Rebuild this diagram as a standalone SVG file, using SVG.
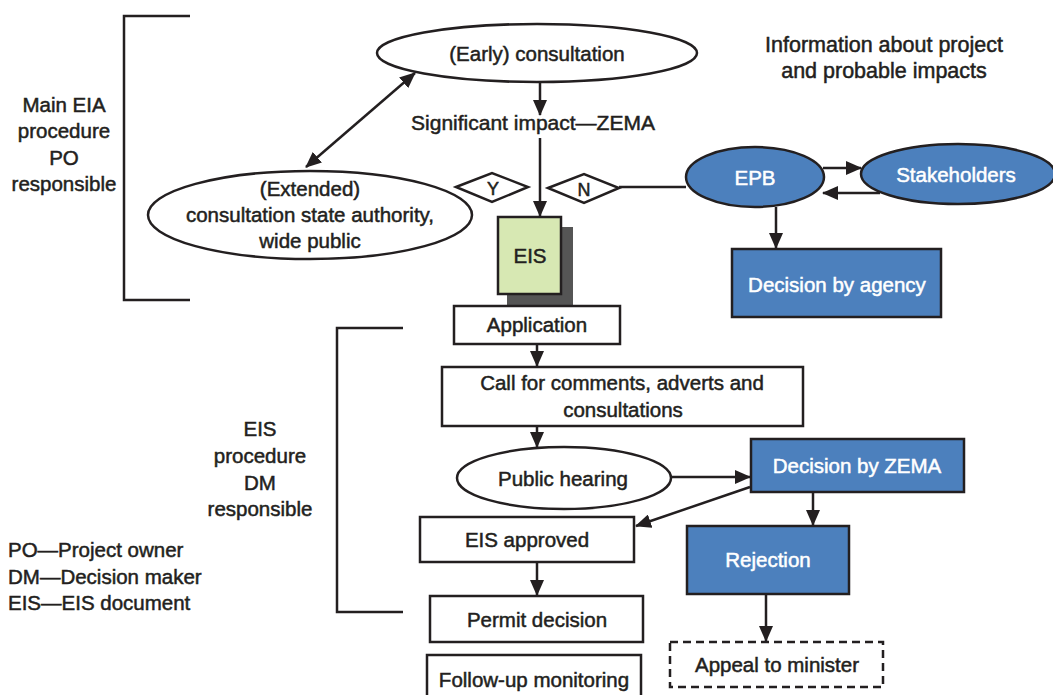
<svg xmlns="http://www.w3.org/2000/svg" width="1053" height="695" viewBox="0 0 1053 695">
<defs>
<marker id="ah" markerUnits="userSpaceOnUse" markerWidth="16" markerHeight="14" refX="15" refY="7" orient="auto-start-reverse" viewBox="0 0 16 14">
<path d="M0,0 L16,7 L0,14 z" fill="#231f20"/>
</marker>
<style>
.t{font-family:"Liberation Sans",Arial,sans-serif;font-size:20.5px;fill:#231f20;text-anchor:middle;stroke:#231f20;stroke-width:0.5}
.w{fill:#ffffff;stroke:#ffffff}
.l{text-anchor:start}
.box{fill:#ffffff;stroke:#231f20;stroke-width:2.5}
.blue{fill:#4c80bd;stroke:#231f20;stroke-width:2.5}
.ln{fill:none;stroke:#231f20;stroke-width:2.5}
.arr{fill:none;stroke:#231f20;stroke-width:2.5;marker-end:url(#ah)}
</style>
</defs>
<rect width="1053" height="695" fill="#ffffff"/>

<g id="bracket-main">
<path class="ln" d="M190,16 H124 V300 H190"/>
<text class="t" x="64" y="112">Main EIA</text>
<text class="t" x="64" y="138">procedure</text>
<text class="t" x="64" y="165">PO</text>
<text class="t" x="64" y="191">responsible</text>
</g>

<g id="bracket-eis">
<path class="ln" d="M403,328 H337 V612 H403"/>
<text class="t" x="260" y="436">EIS</text>
<text class="t" x="260" y="463">procedure</text>
<text class="t" x="260" y="490">DM</text>
<text class="t" x="260" y="516">responsible</text>
</g>

<g id="legend">
<text class="t l" x="8" y="557">PO—Project owner</text>
<text class="t l" x="8" y="584">DM—Decision maker</text>
<text class="t l" x="8" y="610">EIS—EIS document</text>
</g>

<g id="info">
<text class="t" x="884" y="52" style="font-size:21.5px">Information about project</text>
<text class="t" x="884" y="78" style="font-size:21.5px">and probable impacts</text>
</g>

<g id="early">
<ellipse class="box" cx="537" cy="53" rx="160" ry="29"/>
<text class="t" x="537" y="61">(Early) consultation</text>
</g>

<g id="significant">
<text class="t" x="533" y="130" style="font-size:21px">Significant impact—ZEMA</text>
</g>

<g id="extended">
<ellipse class="box" cx="310" cy="215" rx="162" ry="44"/>
<text class="t" x="310" y="196">(Extended)</text>
<text class="t" x="310" y="222">consultation state authority,</text>
<text class="t" x="310" y="248">wide public</text>
</g>

<g id="diamond-y">
<polygon class="box" points="456,187 492,173 528,187 492,202"/>
<text class="t" x="493" y="195" style="font-size:18px">Y</text>
</g>

<g id="diamond-n">
<polygon class="box" points="548,188 584,174 619,188 584,203"/>
<text class="t" x="584" y="196" style="font-size:18px">N</text>
</g>

<g id="eis">
<rect x="507" y="227" width="66" height="78" fill="#555555"/>
<rect x="498" y="217" width="63" height="77" fill="#d7e8b3" stroke="#231f20" stroke-width="2.5"/>
<text class="t" x="530" y="263">EIS</text>
</g>

<g id="epb">
<ellipse class="blue" cx="755" cy="177" rx="69" ry="30"/>
<text class="t w" x="755" y="185">EPB</text>
</g>

<g id="stakeholders">
<ellipse class="blue" cx="958" cy="174" rx="97" ry="30"/>
<text class="t w" x="956" y="182">Stakeholders</text>
</g>

<g id="agency">
<rect class="blue" x="732" y="249" width="209" height="68"/>
<text class="t w" x="837" y="292">Decision by agency</text>
</g>

<g id="application">
<rect class="box" x="454" y="306" width="166" height="38"/>
<text class="t" x="537" y="332">Application</text>
</g>

<g id="call">
<rect class="box" x="442" y="367" width="361" height="59"/>
<text class="t" x="622" y="390">Call for comments, adverts and</text>
<text class="t" x="623" y="417">consultations</text>
</g>

<g id="hearing">
<ellipse class="box" cx="564" cy="478" rx="107" ry="31"/>
<text class="t" x="563" y="486">Public hearing</text>
</g>

<g id="zema">
<rect class="blue" x="751" y="439" width="213" height="53"/>
<text class="t w" x="857" y="473">Decision by ZEMA</text>
</g>

<g id="approved">
<rect class="box" x="420" y="517" width="214" height="45"/>
<text class="t" x="527" y="547">EIS approved</text>
</g>

<g id="rejection">
<rect class="blue" x="687" y="526" width="162" height="68"/>
<text class="t w" x="768" y="567">Rejection</text>
</g>

<g id="permit">
<rect class="box" x="430" y="596" width="213" height="46"/>
<text class="t" x="537" y="627">Permit decision</text>
</g>

<g id="appeal">
<rect x="670" y="642" width="213" height="45" fill="#ffffff" stroke="#231f20" stroke-width="2.5" stroke-dasharray="8,5"/>
<text class="t" x="777" y="672">Appeal to minister</text>
</g>

<g id="followup">
<rect class="box" x="427" y="655" width="214" height="50"/>
<text class="t" x="534" y="687">Follow-up monitoring</text>
</g>

<g id="connectors">
<line class="arr" x1="540" y1="82" x2="540" y2="115"/>
<line class="arr" x1="540" y1="138" x2="540" y2="216"/>
<line class="arr" x1="415" y1="73" x2="306" y2="167" style="marker-start:url(#ah)"/>
<line class="ln" x1="619" y1="187" x2="686" y2="187"/>
<line class="arr" x1="823" y1="168" x2="861" y2="168"/>
<line class="arr" x1="880" y1="193" x2="823" y2="193"/>
<line class="arr" x1="776" y1="207" x2="776" y2="248"/>
<line class="arr" x1="537" y1="344" x2="537" y2="366"/>
<line class="arr" x1="537" y1="426" x2="537" y2="447"/>
<line class="arr" x1="671" y1="477" x2="750" y2="477"/>
<line class="arr" x1="750" y1="487" x2="636" y2="526"/>
<line class="arr" x1="813" y1="492" x2="813" y2="525"/>
<line class="arr" x1="537" y1="562" x2="537" y2="595"/>
<line class="arr" x1="766" y1="594" x2="766" y2="641"/>
</g>
</svg>
